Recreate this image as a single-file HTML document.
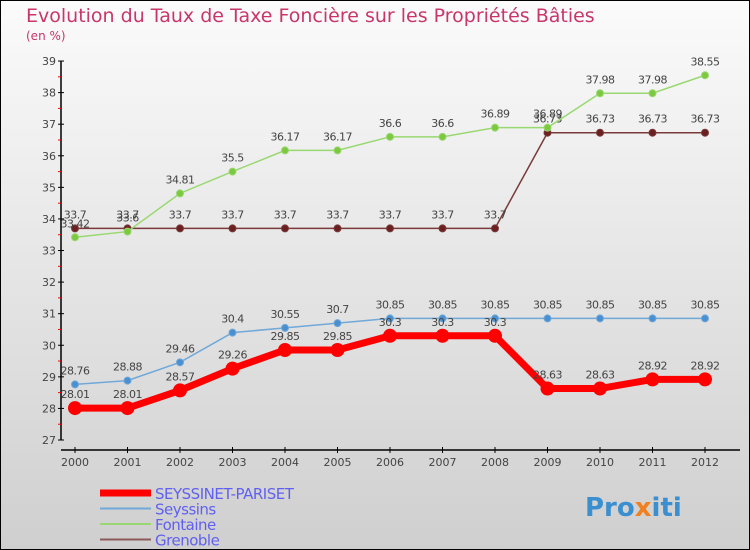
<!DOCTYPE html>
<html><head><meta charset="utf-8"><style>
body{margin:0}
#c{width:750px;height:550px;position:relative;overflow:hidden;font-family:"DejaVu Sans","Liberation Sans",sans-serif}
</style></head><body>
<div id="c">
<svg id="s" width="750" height="550" xmlns="http://www.w3.org/2000/svg">
<defs><linearGradient id="bg" x1="0" y1="0" x2="0" y2="1"><stop offset="0" stop-color="#fbfbfb"/><stop offset="1" stop-color="#cfcfcf"/></linearGradient></defs>
<rect x="0.5" y="0.5" width="749" height="549" fill="url(#bg)" stroke="#000"/>
<text x="26" y="22" font-size="19" fill="#c8366a">Evolution du Taux de Taxe Foncière sur les Propriétés Bâties</text>
<text x="26" y="40" font-size="12" fill="#c8366a">(en %)</text>
<g id="axes"></g><g id="series"></g><g id="legend"></g>
<text x="585" y="516" font-size="26" font-weight="bold" fill="#3a8fd0">Pro<tspan fill="#f08020">x</tspan>iti</text>
</svg></div>
<script>
const years=[2000,2001,2002,2003,2004,2005,2006,2007,2008,2009,2010,2011,2012];
const yTicks=[27,28,29,30,31,32,33,34,35,36,37,38,39];
const seyssinet=[28.01,28.01,28.57,29.26,29.85,29.85,30.3,30.3,30.3,28.63,28.63,28.92,28.92];
const seyssins=[28.76,28.88,29.46,30.4,30.55,30.7,30.85,30.85,30.85,30.85,30.85,30.85,30.85];
const fontaine=[33.42,33.6,34.81,35.5,36.17,36.17,36.6,36.6,36.89,36.89,37.98,37.98,38.55];
const grenoble=[33.7,33.7,33.7,33.7,33.7,33.7,33.7,33.7,33.7,36.73,36.73,36.73,36.73];
const NS="http://www.w3.org/2000/svg";
const X=i=>75+i*52.5, Y=v=>440-(v-27)*31.58;
function mk(t,a,p){const e=document.createElementNS(NS,t);for(const k in a)e.setAttribute(k,a[k]);p.appendChild(e);return e;}
const ax=document.getElementById('axes');
let l=mk('line',{x1:61,y1:61,x2:61,y2:440,stroke:'#000','stroke-width':1.5},ax);


l=mk('line',{x1:61,y1:450,x2:740,y2:450,stroke:'#000','stroke-width':1.5},ax);


yTicks.forEach((v,i)=>{
 mk('line',{x1:58,y1:Y(v),x2:64,y2:Y(v),stroke:'#000'},ax);
 if(i<yTicks.length-1)mk('line',{x1:58,y1:Y(v+0.5),x2:61,y2:Y(v+0.5),stroke:'#f00'},ax);
 const t=mk('text',{x:56,y:Y(v)+4,'font-size':11,'text-anchor':'end',fill:'#444'},ax);t.textContent=v;
 
 
});
years.forEach((y,i)=>{
 mk('line',{x1:X(i),y1:447,x2:X(i),y2:453,stroke:'#000'},ax);
 const t=mk('text',{x:X(i),y:466,'font-size':11,'text-anchor':'middle',fill:'#444'},ax);t.textContent=y;
 
 
});
const sg=document.getElementById('series');
function draw(data,color,lw,r,fill,name){
 const g=mk('g',{},sg);
 
 
 mk('polyline',{points:data.map((v,i)=>X(i)+','+Y(v)).join(' '),fill:'none',stroke:color,'stroke-width':lw},g);
 data.forEach((v,i)=>{
  const c=mk('circle',{cx:X(i),cy:Y(v),r:r,fill:fill,stroke:color,'stroke-width':1},g);
  
  
  const t=mk('text',{x:X(i),y:Y(v)-10,'font-size':11,'text-anchor':'middle',fill:'#444','letter-spacing':'-0.5'},g);
  t.textContent=v;
  
  
 });
}
draw(grenoble,'#7a3a3a',1.5,3.5,'#6a2020','grenoble');
draw(fontaine,'#99d870',1.5,3.5,'#7cc840','fontaine');
draw(seyssins,'#70a8d8',1.5,3.5,'#4a90d0','seyssins');
draw(seyssinet,'#f00',7,6.5,'#f00','seyssinet');
const lg=document.getElementById('legend');
const items=[['SEYSSINET-PARISET','#f00',7],['Seyssins','#70a8d8',2],['Fontaine','#99d870',2],['Grenoble','#8a5a5a',2]];
items.forEach((it,i)=>{
 const y=493+i*15.5;
 const g=mk('g',{},lg);
 
 
 mk('line',{x1:100,y1:y,x2:151,y2:y,stroke:it[1],'stroke-width':it[2]},g);
 const t=mk('text',{x:155,y:y+6,'font-size':15,fill:'#6060f0','letter-spacing':'-0.5'},g);t.textContent=it[0];
});
</script>
</body></html>
